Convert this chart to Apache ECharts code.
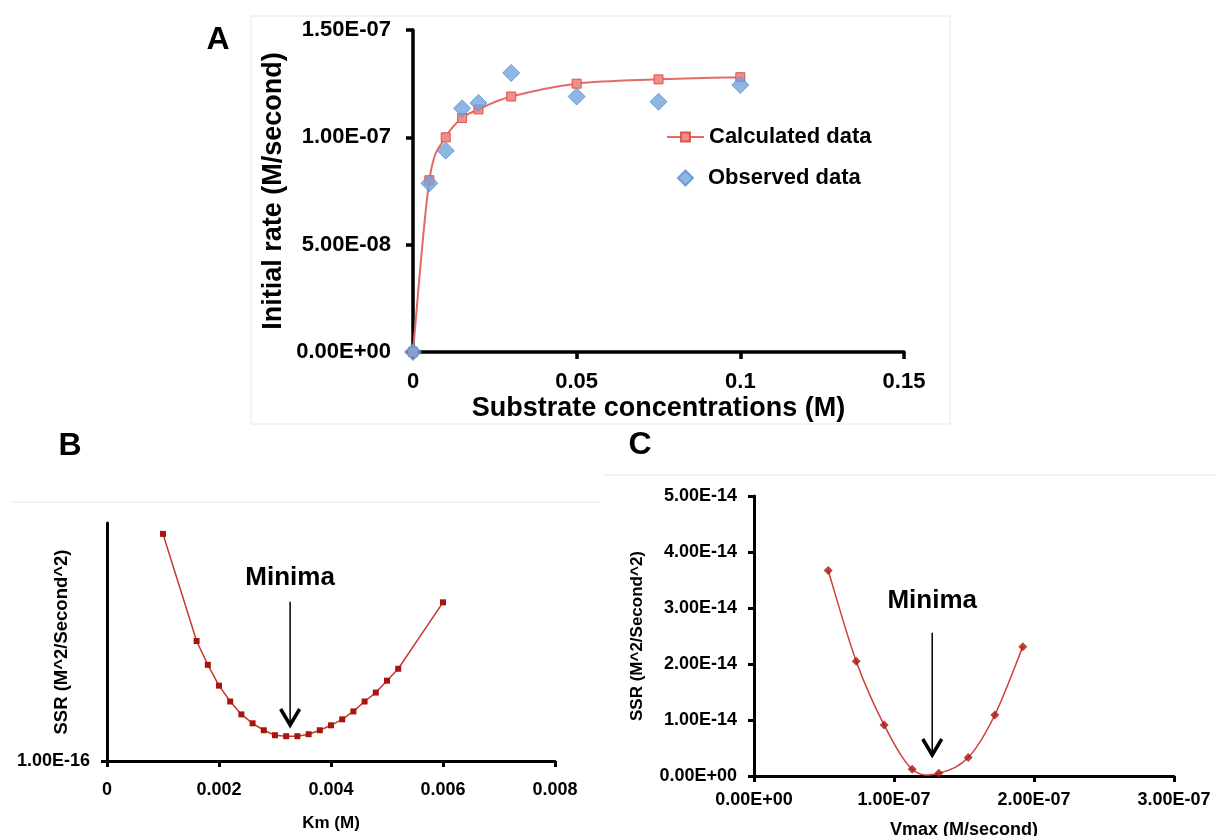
<!DOCTYPE html>
<html>
<head>
<meta charset="utf-8">
<title>Michaelis-Menten fit</title>
<script src="https://cdn.jsdelivr.net/npm/echarts@6/dist/echarts.min.js"></script>
<style>
  html, body { margin: 0; padding: 0; background: #fff; }
  #chart { width: 1216px; height: 836px; }
</style>
</head>
<body>
<div id="chart"></div>
<script>
// Panel A: initial rate vs substrate concentration
const substrate = [0, 0.005, 0.01, 0.015, 0.02, 0.03, 0.05, 0.075, 0.1];
const calculatedRate = [0, 8.0e-8, 1.00e-7, 1.09e-7, 1.13e-7, 1.19e-7, 1.25e-7, 1.27e-7, 1.28e-7];
const observedRate = [0, 7.86e-8, 9.38e-8, 1.135e-7, 1.16e-7, 1.30e-7, 1.19e-7, 1.166e-7, 1.244e-7];
const xTicksA = [0, 0.05, 0.1, 0.15];
const yTicksA = [0, 5e-8, 1e-7, 1.5e-7];

// Panel B: sum of squared residuals vs Km
const kmValues = [0.001, 0.0016, 0.0018, 0.002, 0.0022, 0.0024, 0.0026, 0.0028, 0.003, 0.0032, 0.0034,
                  0.0036, 0.0038, 0.004, 0.0042, 0.0044, 0.0046, 0.0048, 0.005, 0.0052, 0.006];
const ssrKm = [2.39e-15, 1.31e-15, 1.07e-15, 8.6e-16, 7.0e-16, 5.7e-16, 4.8e-16, 4.1e-16, 3.6e-16, 3.5e-16, 3.5e-16,
               3.7e-16, 4.1e-16, 4.6e-16, 5.2e-16, 6.0e-16, 7.0e-16, 7.9e-16, 9.1e-16, 1.03e-15, 1.70e-15];
const xTicksB = [0, 0.002, 0.004, 0.006, 0.008];
const yTicksB = [1e-16];

// Panel C: sum of squared residuals vs Vmax
const vmaxValues = [5.3e-8, 7.3e-8, 9.3e-8, 1.13e-7, 1.32e-7, 1.53e-7, 1.72e-7, 1.92e-7];
const ssrVmax = [3.67e-14, 2.05e-14, 0.91e-14, 0.12e-14, 0.05e-14, 0.33e-14, 1.09e-14, 2.31e-14];
const xTicksC = [0, 1e-7, 2e-7, 3e-7];
const yTicksC = [0, 1e-14, 2e-14, 3e-14, 4e-14, 5e-14];

// "Minima" callouts: [x, label y, arrow start y, arrow tip y] in data units
const minimaB = [[0.00327, 1.95e-15, 1.706e-15, 4.63e-16]];
const minimaC = [[1.273e-7, 3.125e-14, 2.56e-14, 0.375e-14]];

const FONT = '"Liberation Sans", Arial, Helvetica, sans-serif';

// Spreadsheet-style scientific notation, e.g. 1.50E-07
function sci(v) {
  if (Math.abs(v) < 1e-30) return '0.00E+00';
  const parts = v.toExponential(2).split('e');
  const n = parseInt(parts[1], 10);
  return parts[0] + 'E' + (n < 0 ? '-' : '+') + String(Math.abs(n)).padStart(2, '0');
}
function plain(v) {
  return String(+v.toPrecision(6));
}
const zip = (xs, ys) => xs.map((x, i) => [x, ys[i]]);

function axis(opts) {
  const lw = opts.lineWidth || 3;
  return {
    type: 'value',
    gridIndex: opts.grid,
    min: opts.min,
    max: opts.max,
    name: opts.name,
    nameLocation: 'middle',
    nameGap: opts.nameGap,
    nameRotate: opts.nameRotate,
    nameMoveOverlap: false,
    nameTextStyle: { fontFamily: FONT, fontWeight: 'bold', fontSize: opts.nameSize, color: '#000' },
    axisLine: { show: true, onZero: false, lineStyle: { color: '#000', width: lw } },
    axisTick: { show: true, inside: false, length: opts.tickLen || 6,
                customValues: opts.ticks,
                lineStyle: { color: '#000', width: lw } },
    axisLabel: { show: true, customValues: opts.ticks, margin: opts.labelMargin,
                 formatter: opts.formatter, fontFamily: FONT, fontWeight: 'bold',
                 fontSize: opts.labelSize, color: '#000' },
    splitLine: { show: false }
  };
}

// Smooth connecting curve (cardinal spline, one Bezier piece per interval)
function splineRenderer(xs, ys, stroke, width) {
  return function (params, api) {
    const i = params.dataIndex;
    const n = xs.length;
    if (i >= n - 1) return null;
    const P = k => { const j = Math.max(0, Math.min(n - 1, k)); return api.coord([xs[j], ys[j]]); };
    const p0 = P(i - 1), p1 = P(i), p2 = P(i + 1), p3 = P(i + 2);
    const t = 1 / 6;
    return {
      type: 'bezierCurve',
      shape: {
        x1: p1[0], y1: p1[1], x2: p2[0], y2: p2[1],
        cpx1: p1[0] + (p2[0] - p0[0]) * t, cpy1: p1[1] + (p2[1] - p0[1]) * t,
        cpx2: p2[0] - (p3[0] - p1[0]) * t, cpy2: p2[1] - (p3[1] - p1[1]) * t
      },
      style: { stroke: stroke, lineWidth: width, fill: null }
    };
  };
}

function minimaRenderer(params, api) {
  const x = api.value(0);
  const pText = api.coord([x, api.value(1)]);
  const pTop = api.coord([x, api.value(2)]);
  const pTip = api.coord([x, api.value(3)]);
  return {
    type: 'group',
    children: [
      { type: 'text', style: { text: 'Minima', x: pText[0], y: pText[1], align: 'center', verticalAlign: 'middle',
                               fontFamily: FONT, fontWeight: 'bold', fontSize: 26, fill: '#000' } },
      { type: 'line', shape: { x1: pTop[0], y1: pTop[1], x2: pTip[0], y2: pTip[1] },
        style: { stroke: '#000', lineWidth: 1.5 } },
      { type: 'polyline', shape: { points: [[pTip[0] - 9.5, pTip[1] - 16], [pTip[0], pTip[1]], [pTip[0] + 9.5, pTip[1] - 16]] },
        style: { stroke: '#000', lineWidth: 3.5, fill: null, lineJoin: 'miter' } }
    ]
  };
}

const CALC_LINE = '#e46a66';
const SSR_LINE = '#cf3f35';

const chart = echarts.init(document.getElementById('chart'), null, { renderer: 'canvas' });

chart.setOption({
  animation: false,
  backgroundColor: '#fff',
  graphic: [
    { type: 'rect', shape: { x: 251, y: 16, width: 699, height: 408 }, style: { stroke: '#e6e6e6', fill: null, lineWidth: 1 }, silent: true },
    { type: 'line', shape: { x1: 11, y1: 502, x2: 600, y2: 502 }, style: { stroke: '#e6e6e6', lineWidth: 1 }, silent: true },
    { type: 'line', shape: { x1: 603, y1: 475, x2: 1216, y2: 475 }, style: { stroke: '#e6e6e6', lineWidth: 1 }, silent: true },
    { type: 'text', style: { text: 'A', x: 218, y: 40, align: 'center', verticalAlign: 'middle', fontFamily: FONT, fontWeight: 'bold', fontSize: 32, fill: '#000' } },
    { type: 'text', style: { text: 'B', x: 70, y: 446, align: 'center', verticalAlign: 'middle', fontFamily: FONT, fontWeight: 'bold', fontSize: 32, fill: '#000' } },
    { type: 'text', style: { text: 'C', x: 640, y: 445, align: 'center', verticalAlign: 'middle', fontFamily: FONT, fontWeight: 'bold', fontSize: 32, fill: '#000' } }
  ],
  legend: [
    { data: ['Calculated data'], left: 666, top: 124, padding: 0, itemWidth: 37, itemHeight: 11,
      lineStyle: { color: CALC_LINE, width: 2, opacity: 1 },
      textStyle: { fontFamily: FONT, fontWeight: 'bold', fontSize: 22, color: '#000', lineHeight: 26 } },
    { data: ['Observed data'], left: 677, top: 165, padding: 0, itemWidth: 15, itemHeight: 15,
      textStyle: { fontFamily: FONT, fontWeight: 'bold', fontSize: 22, color: '#000', lineHeight: 26, padding: [0, 0, 0, 10] } }
  ],
  grid: [
    { left: 413, top: 30, width: 491, height: 322, outerBoundsMode: 'none' },
    { left: 107, top: 523, width: 448, height: 238, outerBoundsMode: 'none' },
    { left: 754, top: 496, width: 420, height: 280, outerBoundsMode: 'none' }
  ],
  xAxis: [
    axis({ grid: 0, min: 0, max: 0.15, ticks: xTicksA, formatter: plain, labelSize: 22, labelMargin: 19,
           name: 'Substrate concentrations (M)', nameSize: 27, nameGap: 43, lineWidth: 3.5, tickLen: 7 }),
    axis({ grid: 1, min: 0, max: 0.008, ticks: xTicksB, formatter: plain, labelSize: 18, labelMargin: 20,
           name: 'Km (M)', nameSize: 17, nameGap: 54, tickLen: 6 }),
    axis({ grid: 2, min: 0, max: 3e-7, ticks: xTicksC, formatter: sci, labelSize: 18, labelMargin: 15,
           name: 'Vmax (M/second)', nameSize: 18, nameGap: 45, tickLen: 6 })
  ],
  yAxis: [
    axis({ grid: 0, min: 0, max: 1.5e-7, ticks: yTicksA, formatter: sci, labelSize: 22, labelMargin: 22,
           name: 'Initial rate (M/second)', nameSize: 27, nameGap: 126, nameRotate: 90, lineWidth: 3.5, tickLen: 7 }),
    axis({ grid: 1, min: 1e-16, max: 2.5e-15, ticks: yTicksB, formatter: sci, labelSize: 18, labelMargin: 17,
           name: 'SSR (M^2/Second^2)', nameSize: 18.5, nameGap: 36, nameRotate: 90, tickLen: 6 }),
    axis({ grid: 2, min: 0, max: 5e-14, ticks: yTicksC, formatter: sci, labelSize: 18, labelMargin: 17,
           name: 'SSR (M^2/Second^2)', nameSize: 17, nameGap: 108, nameRotate: 90, tickLen: 6 })
  ],
  series: [
    {
      name: 'Calculated curve', type: 'custom', xAxisIndex: 0, yAxisIndex: 0, silent: true, z: 2,
      encode: { x: 0, y: 1 }, data: zip(substrate, calculatedRate),
      renderItem: splineRenderer(substrate, calculatedRate, CALC_LINE, 2)
    },
    {
      name: 'Calculated data', type: 'line', xAxisIndex: 0, yAxisIndex: 0,
      data: zip(substrate, calculatedRate), clip: false,
      symbol: 'rect', symbolSize: 9, z: 3,
      lineStyle: { color: CALC_LINE, width: 2, opacity: 0 },
      itemStyle: { color: '#f28d88', borderColor: '#d9534f', borderWidth: 1 }
    },
    {
      name: 'Observed data', type: 'scatter', xAxisIndex: 0, yAxisIndex: 0,
      data: zip(substrate, observedRate), clip: false,
      symbol: 'diamond', symbolSize: 17, z: 4,
      itemStyle: { color: '#70a4de', borderColor: '#5b8ecf', borderWidth: 1 }
    },
    {
      name: 'SSR Km', type: 'line', xAxisIndex: 1, yAxisIndex: 1,
      data: zip(kmValues, ssrKm), smooth: false, clip: false,
      symbol: 'rect', symbolSize: 6,
      lineStyle: { color: '#c43a2e', width: 1.5 },
      itemStyle: { color: '#a8150e' }
    },
    {
      name: 'SSR Vmax curve', type: 'custom', xAxisIndex: 2, yAxisIndex: 2, silent: true, z: 2,
      encode: { x: 0, y: 1 }, data: zip(vmaxValues, ssrVmax),
      renderItem: splineRenderer(vmaxValues, ssrVmax, SSR_LINE, 1.5)
    },
    {
      name: 'SSR Vmax', type: 'scatter', xAxisIndex: 2, yAxisIndex: 2,
      data: zip(vmaxValues, ssrVmax), clip: false,
      symbol: 'diamond', symbolSize: 9, z: 3,
      itemStyle: { color: '#a8150e' }
    },
    {
      name: 'Minima Km', type: 'custom', xAxisIndex: 1, yAxisIndex: 1, silent: true, z: 5,
      encode: { x: 0, y: [1, 2, 3] }, data: minimaB, renderItem: minimaRenderer
    },
    {
      name: 'Minima Vmax', type: 'custom', xAxisIndex: 2, yAxisIndex: 2, silent: true, z: 5,
      encode: { x: 0, y: [1, 2, 3] }, data: minimaC, renderItem: minimaRenderer
    }
  ]
});
</script>
</body>
</html>
